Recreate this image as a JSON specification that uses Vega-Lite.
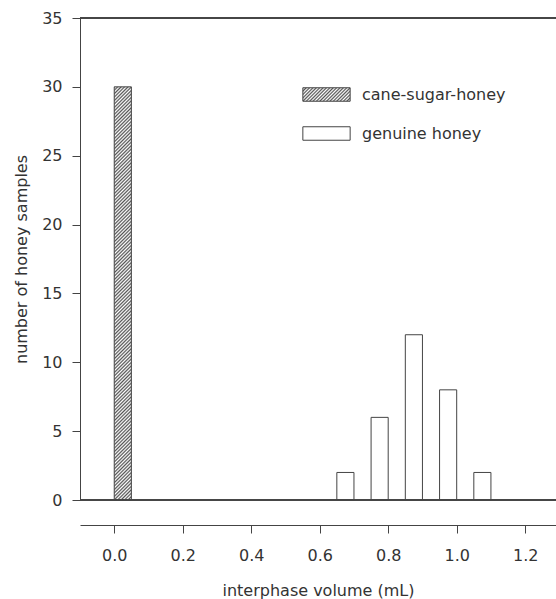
{
  "$schema": "https://vega.github.io/schema/vega-lite/v6.json",
  "width": 476,
  "height": 482,
  "autosize": "none",
  "padding": {"left": 80, "top": 18, "right": 0, "bottom": 99},
  "background": "white",
  "config": {
    "view": {"stroke": null},
    "font": "DejaVu Sans",
    "axis": {"grid": false, "domainColor": "#444", "tickColor": "#444", "labelColor": "#333", "titleColor": "#333", "labelFontSize": 16, "titleFontSize": 16, "titleFontWeight": "normal", "labelFont": "DejaVu Sans", "titleFont": "DejaVu Sans"},
    "legend": {"labelFont": "DejaVu Sans"}
  },
  "data": {
    "values": [
      {"type": "cane-sugar-honey", "start": 0.0, "end": 0.05, "count": 30},
      {"type": "genuine honey", "start": 0.65, "end": 0.70, "count": 2},
      {"type": "genuine honey", "start": 0.75, "end": 0.80, "count": 6},
      {"type": "genuine honey", "start": 0.85, "end": 0.90, "count": 12},
      {"type": "genuine honey", "start": 0.95, "end": 1.00, "count": 8},
      {"type": "genuine honey", "start": 1.05, "end": 1.10, "count": 2}
    ]
  },
  "layer": [
    {
      "mark": {"type": "bar", "stroke": "#444", "strokeWidth": 1},
      "encoding": {
        "x": {"field": "start", "type": "quantitative", "scale": {"domain": [-0.1, 1.29], "nice": false, "zero": false},
          "axis": {"title": "interphase volume (mL)", "values": [0, 0.2, 0.4, 0.6, 0.8, 1.0, 1.2], "format": ".1f", "offset": 25, "tickSize": 8, "labelPadding": 14, "titlePadding": 19}},
        "x2": {"field": "end"},
        "y": {"field": "count", "type": "quantitative", "scale": {"domain": [0, 35], "nice": false},
          "axis": {"title": "number of honey samples", "values": [0, 5, 10, 15, 20, 25, 30, 35], "tickSize": 8, "labelPadding": 10, "titlePadding": 12}},
        "y2": {"datum": 0},
        "fill": {
          "field": "type", "type": "nominal",
          "scale": {"domain": ["cane-sugar-honey", "genuine honey"], "range": [
            {"expr": "{gradient: 'linear', x1: 0, y1: 0, x2: 1.189, y2: 0.339, stops: [{offset: 0, color: '#555'}, {offset: 0.0278, color: '#fff'}, {offset: 0.0556, color: '#555'}, {offset: 0.0833, color: '#fff'}, {offset: 0.1111, color: '#555'}, {offset: 0.1389, color: '#fff'}, {offset: 0.1667, color: '#555'}, {offset: 0.1944, color: '#fff'}, {offset: 0.2222, color: '#555'}, {offset: 0.25, color: '#fff'}, {offset: 0.2778, color: '#555'}, {offset: 0.3056, color: '#fff'}, {offset: 0.3333, color: '#555'}, {offset: 0.3611, color: '#fff'}, {offset: 0.3889, color: '#555'}, {offset: 0.4167, color: '#fff'}, {offset: 0.4444, color: '#555'}, {offset: 0.4722, color: '#fff'}, {offset: 0.5, color: '#555'}, {offset: 0.5278, color: '#fff'}, {offset: 0.5556, color: '#555'}, {offset: 0.5833, color: '#fff'}, {offset: 0.6111, color: '#555'}, {offset: 0.6389, color: '#fff'}, {offset: 0.6667, color: '#555'}, {offset: 0.6944, color: '#fff'}, {offset: 0.7222, color: '#555'}, {offset: 0.75, color: '#fff'}, {offset: 0.7778, color: '#555'}, {offset: 0.8056, color: '#fff'}, {offset: 0.8333, color: '#555'}, {offset: 0.8611, color: '#fff'}, {offset: 0.8889, color: '#555'}, {offset: 0.9167, color: '#fff'}, {offset: 0.9444, color: '#555'}, {offset: 0.9722, color: '#fff'}, {offset: 1, color: '#555'}]}"},
            "#ffffff"]},
          "condition": {"test": "datum.type === 'cane-sugar-honey'", "value": {"gradient": "linear", "x1": 0, "y1": 0, "x2": 0.04308, "y2": 1.03966, "stops": [
{"offset":0,"color":"#555"},{"offset":0.004,"color":"#fff"},{"offset":0.008,"color":"#555"},{"offset":0.012,"color":"#fff"},{"offset":0.016,"color":"#555"},{"offset":0.02,"color":"#fff"},{"offset":0.024,"color":"#555"},{"offset":0.028,"color":"#fff"},{"offset":0.032,"color":"#555"},{"offset":0.036,"color":"#fff"},
{"offset":0.04,"color":"#555"},{"offset":0.044,"color":"#fff"},{"offset":0.048,"color":"#555"},{"offset":0.052,"color":"#fff"},{"offset":0.056,"color":"#555"},{"offset":0.06,"color":"#fff"},{"offset":0.064,"color":"#555"},{"offset":0.068,"color":"#fff"},{"offset":0.072,"color":"#555"},{"offset":0.076,"color":"#fff"},
{"offset":0.08,"color":"#555"},{"offset":0.084,"color":"#fff"},{"offset":0.088,"color":"#555"},{"offset":0.092,"color":"#fff"},{"offset":0.096,"color":"#555"},{"offset":0.1,"color":"#fff"},{"offset":0.104,"color":"#555"},{"offset":0.108,"color":"#fff"},{"offset":0.112,"color":"#555"},{"offset":0.116,"color":"#fff"},
{"offset":0.12,"color":"#555"},{"offset":0.124,"color":"#fff"},{"offset":0.128,"color":"#555"},{"offset":0.132,"color":"#fff"},{"offset":0.136,"color":"#555"},{"offset":0.14,"color":"#fff"},{"offset":0.144,"color":"#555"},{"offset":0.148,"color":"#fff"},{"offset":0.152,"color":"#555"},{"offset":0.156,"color":"#fff"},
{"offset":0.16,"color":"#555"},{"offset":0.164,"color":"#fff"},{"offset":0.168,"color":"#555"},{"offset":0.172,"color":"#fff"},{"offset":0.176,"color":"#555"},{"offset":0.18,"color":"#fff"},{"offset":0.184,"color":"#555"},{"offset":0.188,"color":"#fff"},{"offset":0.192,"color":"#555"},{"offset":0.196,"color":"#fff"},
{"offset":0.2,"color":"#555"},{"offset":0.204,"color":"#fff"},{"offset":0.208,"color":"#555"},{"offset":0.212,"color":"#fff"},{"offset":0.216,"color":"#555"},{"offset":0.22,"color":"#fff"},{"offset":0.224,"color":"#555"},{"offset":0.228,"color":"#fff"},{"offset":0.232,"color":"#555"},{"offset":0.236,"color":"#fff"},
{"offset":0.24,"color":"#555"},{"offset":0.244,"color":"#fff"},{"offset":0.248,"color":"#555"},{"offset":0.252,"color":"#fff"},{"offset":0.256,"color":"#555"},{"offset":0.26,"color":"#fff"},{"offset":0.264,"color":"#555"},{"offset":0.268,"color":"#fff"},{"offset":0.272,"color":"#555"},{"offset":0.276,"color":"#fff"},
{"offset":0.28,"color":"#555"},{"offset":0.284,"color":"#fff"},{"offset":0.288,"color":"#555"},{"offset":0.292,"color":"#fff"},{"offset":0.296,"color":"#555"},{"offset":0.3,"color":"#fff"},{"offset":0.304,"color":"#555"},{"offset":0.308,"color":"#fff"},{"offset":0.312,"color":"#555"},{"offset":0.316,"color":"#fff"},
{"offset":0.32,"color":"#555"},{"offset":0.324,"color":"#fff"},{"offset":0.328,"color":"#555"},{"offset":0.332,"color":"#fff"},{"offset":0.336,"color":"#555"},{"offset":0.34,"color":"#fff"},{"offset":0.344,"color":"#555"},{"offset":0.348,"color":"#fff"},{"offset":0.352,"color":"#555"},{"offset":0.356,"color":"#fff"},
{"offset":0.36,"color":"#555"},{"offset":0.364,"color":"#fff"},{"offset":0.368,"color":"#555"},{"offset":0.372,"color":"#fff"},{"offset":0.376,"color":"#555"},{"offset":0.38,"color":"#fff"},{"offset":0.384,"color":"#555"},{"offset":0.388,"color":"#fff"},{"offset":0.392,"color":"#555"},{"offset":0.396,"color":"#fff"},
{"offset":0.4,"color":"#555"},{"offset":0.404,"color":"#fff"},{"offset":0.408,"color":"#555"},{"offset":0.412,"color":"#fff"},{"offset":0.416,"color":"#555"},{"offset":0.42,"color":"#fff"},{"offset":0.424,"color":"#555"},{"offset":0.428,"color":"#fff"},{"offset":0.432,"color":"#555"},{"offset":0.436,"color":"#fff"},
{"offset":0.44,"color":"#555"},{"offset":0.444,"color":"#fff"},{"offset":0.448,"color":"#555"},{"offset":0.452,"color":"#fff"},{"offset":0.456,"color":"#555"},{"offset":0.46,"color":"#fff"},{"offset":0.464,"color":"#555"},{"offset":0.468,"color":"#fff"},{"offset":0.472,"color":"#555"},{"offset":0.476,"color":"#fff"},
{"offset":0.48,"color":"#555"},{"offset":0.484,"color":"#fff"},{"offset":0.488,"color":"#555"},{"offset":0.492,"color":"#fff"},{"offset":0.496,"color":"#555"},{"offset":0.5,"color":"#fff"},{"offset":0.504,"color":"#555"},{"offset":0.508,"color":"#fff"},{"offset":0.512,"color":"#555"},{"offset":0.516,"color":"#fff"},
{"offset":0.52,"color":"#555"},{"offset":0.524,"color":"#fff"},{"offset":0.528,"color":"#555"},{"offset":0.532,"color":"#fff"},{"offset":0.536,"color":"#555"},{"offset":0.54,"color":"#fff"},{"offset":0.544,"color":"#555"},{"offset":0.548,"color":"#fff"},{"offset":0.552,"color":"#555"},{"offset":0.556,"color":"#fff"},
{"offset":0.56,"color":"#555"},{"offset":0.564,"color":"#fff"},{"offset":0.568,"color":"#555"},{"offset":0.572,"color":"#fff"},{"offset":0.576,"color":"#555"},{"offset":0.58,"color":"#fff"},{"offset":0.584,"color":"#555"},{"offset":0.588,"color":"#fff"},{"offset":0.592,"color":"#555"},{"offset":0.596,"color":"#fff"},
{"offset":0.6,"color":"#555"},{"offset":0.604,"color":"#fff"},{"offset":0.608,"color":"#555"},{"offset":0.612,"color":"#fff"},{"offset":0.616,"color":"#555"},{"offset":0.62,"color":"#fff"},{"offset":0.624,"color":"#555"},{"offset":0.628,"color":"#fff"},{"offset":0.632,"color":"#555"},{"offset":0.636,"color":"#fff"},
{"offset":0.64,"color":"#555"},{"offset":0.644,"color":"#fff"},{"offset":0.648,"color":"#555"},{"offset":0.652,"color":"#fff"},{"offset":0.656,"color":"#555"},{"offset":0.66,"color":"#fff"},{"offset":0.664,"color":"#555"},{"offset":0.668,"color":"#fff"},{"offset":0.672,"color":"#555"},{"offset":0.676,"color":"#fff"},
{"offset":0.68,"color":"#555"},{"offset":0.684,"color":"#fff"},{"offset":0.688,"color":"#555"},{"offset":0.692,"color":"#fff"},{"offset":0.696,"color":"#555"},{"offset":0.7,"color":"#fff"},{"offset":0.704,"color":"#555"},{"offset":0.708,"color":"#fff"},{"offset":0.712,"color":"#555"},{"offset":0.716,"color":"#fff"},
{"offset":0.72,"color":"#555"},{"offset":0.724,"color":"#fff"},{"offset":0.728,"color":"#555"},{"offset":0.732,"color":"#fff"},{"offset":0.736,"color":"#555"},{"offset":0.74,"color":"#fff"},{"offset":0.744,"color":"#555"},{"offset":0.748,"color":"#fff"},{"offset":0.752,"color":"#555"},{"offset":0.756,"color":"#fff"},
{"offset":0.76,"color":"#555"},{"offset":0.764,"color":"#fff"},{"offset":0.768,"color":"#555"},{"offset":0.772,"color":"#fff"},{"offset":0.776,"color":"#555"},{"offset":0.78,"color":"#fff"},{"offset":0.784,"color":"#555"},{"offset":0.788,"color":"#fff"},{"offset":0.792,"color":"#555"},{"offset":0.796,"color":"#fff"},
{"offset":0.8,"color":"#555"},{"offset":0.804,"color":"#fff"},{"offset":0.808,"color":"#555"},{"offset":0.812,"color":"#fff"},{"offset":0.816,"color":"#555"},{"offset":0.82,"color":"#fff"},{"offset":0.824,"color":"#555"},{"offset":0.828,"color":"#fff"},{"offset":0.832,"color":"#555"},{"offset":0.836,"color":"#fff"},
{"offset":0.84,"color":"#555"},{"offset":0.844,"color":"#fff"},{"offset":0.848,"color":"#555"},{"offset":0.852,"color":"#fff"},{"offset":0.856,"color":"#555"},{"offset":0.86,"color":"#fff"},{"offset":0.864,"color":"#555"},{"offset":0.868,"color":"#fff"},{"offset":0.872,"color":"#555"},{"offset":0.876,"color":"#fff"},
{"offset":0.88,"color":"#555"},{"offset":0.884,"color":"#fff"},{"offset":0.888,"color":"#555"},{"offset":0.892,"color":"#fff"},{"offset":0.896,"color":"#555"},{"offset":0.9,"color":"#fff"},{"offset":0.904,"color":"#555"},{"offset":0.908,"color":"#fff"},{"offset":0.912,"color":"#555"},{"offset":0.916,"color":"#fff"},
{"offset":0.92,"color":"#555"},{"offset":0.924,"color":"#fff"},{"offset":0.928,"color":"#555"},{"offset":0.932,"color":"#fff"},{"offset":0.936,"color":"#555"},{"offset":0.94,"color":"#fff"},{"offset":0.944,"color":"#555"},{"offset":0.948,"color":"#fff"},{"offset":0.952,"color":"#555"},{"offset":0.956,"color":"#fff"},
{"offset":0.96,"color":"#555"},{"offset":0.964,"color":"#fff"},{"offset":0.968,"color":"#555"},{"offset":0.972,"color":"#fff"},{"offset":0.976,"color":"#555"},{"offset":0.98,"color":"#fff"},{"offset":0.984,"color":"#555"},{"offset":0.988,"color":"#fff"},{"offset":0.992,"color":"#555"},{"offset":0.996,"color":"#fff"},
{"offset":1,"color":"#555"}
          ]}},
          "legend": {
            "orient": "none", "legendX": 222, "legendY": 52, "title": null,
            "symbolType": "M-1,-0.285H1V0.285H-1Z", "symbolSize": 2237,
            "symbolStrokeColor": "#444", "symbolStrokeWidth": 1,
            "labelFontSize": 16, "labelColor": "#333", "labelOffset": 11, "rowPadding": 5
          }
        }
      }
    },
    {"mark": {"type": "rule", "color": "#444", "strokeWidth": 1}, "encoding": {"y": {"datum": 35, "type": "quantitative"}}},
    {"mark": {"type": "rule", "color": "#444", "strokeWidth": 1}, "encoding": {"y": {"datum": 0, "type": "quantitative"}}}
  ]
}
